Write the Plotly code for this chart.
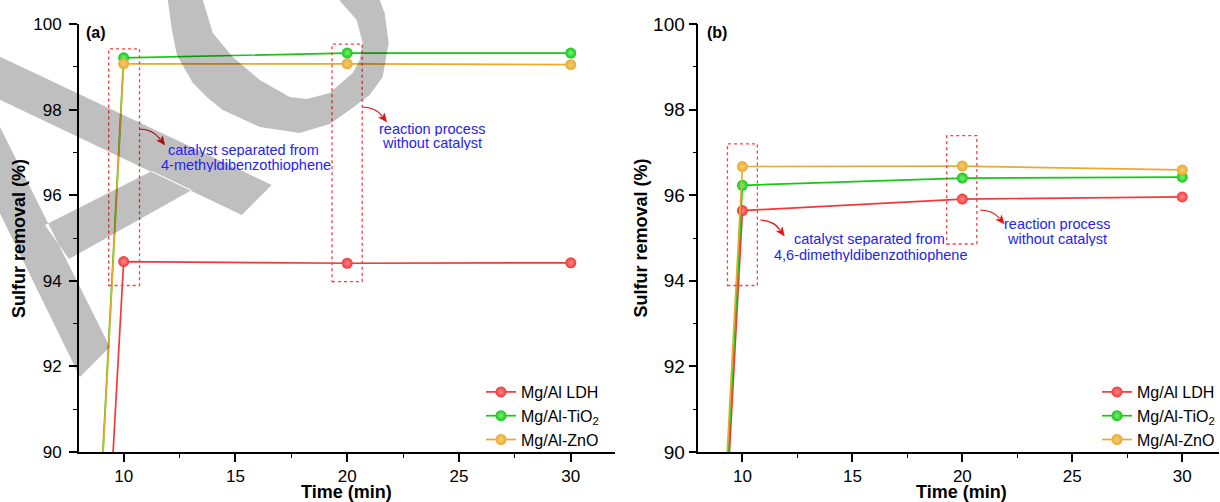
import math
import plotly.graph_objects as go

# ---------------- data ----------------
time_min = [0, 10, 20, 30]
series_names = ["Mg/Al LDH", "Mg/Al-TiO<sub>2</sub>", "Mg/Al-ZnO"]
a_ldh = [0, 94.45, 94.41, 94.42]
a_tio2 = [0, 99.21, 99.32, 99.32]
a_zno = [0, 99.07, 99.07, 99.05]
b_ldh = [0, 95.64, 95.91, 95.96]
b_tio2 = [0, 96.23, 96.40, 96.42]
b_zno = [0, 96.67, 96.68, 96.59]
colors = ["#f43838", "#14c814", "#e8aa30"]
light = ["#ff8a8a", "#7cee7c", "#f6cc78"]

W, H = 1220, 502
FONT = "Arial, Liberation Sans, sans-serif"


def PX(x):
    return x / W


def PY(y):
    return 1 - y / H


fig = go.Figure()

panels = [
    ("x", "y", "legend", [a_ldh, a_tio2, a_zno]),
    ("x2", "y2", "legend2", [b_ldh, b_tio2, b_zno]),
]
for xa, ya, lg, vals in panels:
    for name, v, c, lc in zip(series_names, vals, colors, light):
        fig.add_trace(go.Scatter(
            x=time_min, y=v, name=name, xaxis=xa, yaxis=ya, legend=lg,
            mode="lines+markers",
            line=dict(color=c, width=1.7),
            marker=dict(size=11, color=c, gradient=dict(type="radial", color=lc),
                        line=dict(width=0)),
        ))

ydom = [PY(452), PY(24)]


def axis(size, **kw):
    d = dict(
        showline=True, linewidth=1.6, linecolor="black", showgrid=False, zeroline=False,
        ticks="outside", ticklen=8, tickwidth=1.5, tickcolor="black", automargin=False,
        tickfont=dict(family=FONT, size=size, color="black"),
    )
    d.update(kw)
    return d


minor_x = dict(dtick=2.5, ticks="outside", ticklen=4, tickwidth=1.3, tickcolor="black")
minor_y = dict(dtick=1, ticks="outside", ticklen=4, tickwidth=1.3, tickcolor="black")

fig.update_layout(
    width=W, height=H,
    margin=dict(l=0, r=0, t=0, b=0, pad=0),
    paper_bgcolor="white", plot_bgcolor="rgba(0,0,0,0)",
    font=dict(family=FONT, color="black"),
    xaxis=axis(17, domain=[PX(79), PX(616)], range=[8, 32], dtick=5, tick0=0,
               minor=minor_x, anchor="y"),
    yaxis=axis(17, domain=ydom, range=[90, 100], dtick=2, minor=minor_y, anchor="x",
               ticklabelstandoff=4),
    xaxis2=axis(17, domain=[PX(699), 1.0], range=[8, 31.67], dtick=5, tick0=0,
                minor=minor_x, anchor="y2"),
    yaxis2=axis(19, domain=ydom, range=[90, 100], dtick=2, minor=minor_y, anchor="x2",
                ticklabelstandoff=0),
    legend=dict(x=PX(481), y=PY(375), xanchor="left", yanchor="top",
                bgcolor="rgba(0,0,0,0)", font=dict(family=FONT, size=16, color="black"),
                tracegroupgap=0),
    legend2=dict(x=PX(1098), y=PY(375), xanchor="left", yanchor="top",
                 bgcolor="rgba(0,0,0,0)", font=dict(family=FONT, size=16, color="black"),
                 tracegroupgap=0),
    showlegend=True,
)

# ---------------- dotted boxes (data coords) ----------------
boxes = [
    ("x", "y", 9.33, 10.71, 93.89, 99.42),
    ("x", "y", 19.32, 20.67, 93.98, 99.53),
    ("x2", "y2", 9.32, 10.68, 93.89, 97.20),
    ("x2", "y2", 19.29, 20.66, 94.86, 97.39),
]
for xr, yr, x0, x1, y0, y1 in boxes:
    fig.add_shape(type="rect", xref=xr, yref=yr, x0=x0, x1=x1, y0=y0, y1=y1,
                  line=dict(color="#ff3b3b", width=1.3, dash="dot"), fillcolor="rgba(0,0,0,0)")

# ---------------- curved arrows ----------------
arrows = [((140, 129), (165, 145)), ((363, 107), (387, 122)),
          ((761, 220), (785, 236)), ((981, 210), (1005, 224))]
RED = "#e01212"
for (sx, sy), (ex, ey) in arrows:
    cx, cy = sx + 13, sy + 0.5
    dx, dy = ex - cx, ey - cy
    n = math.hypot(dx, dy)
    ux, uy = dx / n, dy / n
    L, hw = 8.5, 3.6
    bx, by = ex - ux * L, ey - uy * L
    fig.add_shape(type="path", xref="paper", yref="paper",
                  path=f"M {PX(sx)} {PY(sy)} Q {PX(cx)} {PY(cy)} {PX(bx + ux)} {PY(by + uy)}",
                  line=dict(color=RED, width=1.2))
    p1 = (bx - uy * hw, by + ux * hw)
    p2 = (bx + uy * hw, by - ux * hw)
    fig.add_shape(type="path", xref="paper", yref="paper",
                  path=f"M {PX(ex)} {PY(ey)} L {PX(p1[0])} {PY(p1[1])} "
                       f"L {PX(bx + ux * 2)} {PY(by + uy * 2)} L {PX(p2[0])} {PY(p2[1])} Z",
                  fillcolor=RED, line=dict(color=RED, width=0.5))

# ---------------- blue notes ----------------
notes = [
    ("catalyst separated from", 244, 150.5), ("4-methyldibenzothiophene", 246, 165),
    ("reaction process", 432, 129), ("without catalyst", 432, 143),
    ("catalyst separated from", 870, 239), ("4,6-dimethyldibenzothiophene", 871, 255),
    ("reaction process", 1058, 224), ("without catalyst", 1058, 239),
]
for t, x, y in notes:
    fig.add_annotation(x=PX(x), y=PY(y), xref="paper", yref="paper", text=t, showarrow=False,
                       xanchor="center", yanchor="middle", height=14, borderpad=0,
                       font=dict(family=FONT, size=14.5, color="#2323f0"))

# ---------------- panel labels & axis titles ----------------
labels = [("<b>(a)</b>", 96, 33, 16, 0), ("<b>(b)</b>", 718, 33, 16, 0),
          ("<b>Time (min)</b>", 347, 492, 18, 0), ("<b>Time (min)</b>", 962, 492, 18, 0),
          ("<b>Sulfur removal (%)</b>", 19, 238, 18, -90),
          ("<b>Sulfur removal (%)</b>", 642, 238, 18, -90)]
for t, x, y, s, ang in labels:
    fig.add_annotation(x=PX(x), y=PY(y), xref="paper", yref="paper", text=t, showarrow=False,
                       xanchor="center", yanchor="middle", textangle=ang, borderpad=0,
                       font=dict(family=FONT, size=s, color="black"))

# ---------------- grey watermark overlay ----------------
def poly(pts):
    return "M " + " L ".join(f"{PX(x):.5f} {PY(y):.5f}" for x, y in pts) + " Z"


leg1 = [(-10, 52), (272, 185), (242, 215), (-10, 95)]
leg2 = [(-10, 107), (110, 347), (80, 377), (-10, 193)]
bar = [(45, 225), (152, 171), (192, 190), (69, 259)]
ring = [(165, -5), (168, 0), (172, 30), (177, 55), (193, 83), (208, 98), (223, 110), (260, 127),
        (300, 133), (330, 124), (350, 110), (370, 95), (383, 77), (389, 43), (385, 13), (378, -5),
        (336, -5), (342, 3), (357, 20), (363, 43), (360, 60), (353, 73), (330, 93), (307, 99),
        (290, 97), (260, 80), (233, 57), (213, 33), (203, 0), (201, -5)]
fig.add_shape(type="path", xref="paper", yref="paper", layer="above",
              path=poly(leg1) + " " + poly(leg2) + " " + poly(bar),
              fillcolor="rgba(0,0,0,0.25)", line=dict(width=0))
fig.add_shape(type="path", xref="paper", yref="paper", layer="above",
              path=poly(ring), fillcolor="rgba(0,0,0,0.25)", line=dict(width=0))

fig.write_html("out.html", config={"displayModeBar": False},
               post_script="document.body.style.margin='0px';document.body.style.overflow='hidden';")
